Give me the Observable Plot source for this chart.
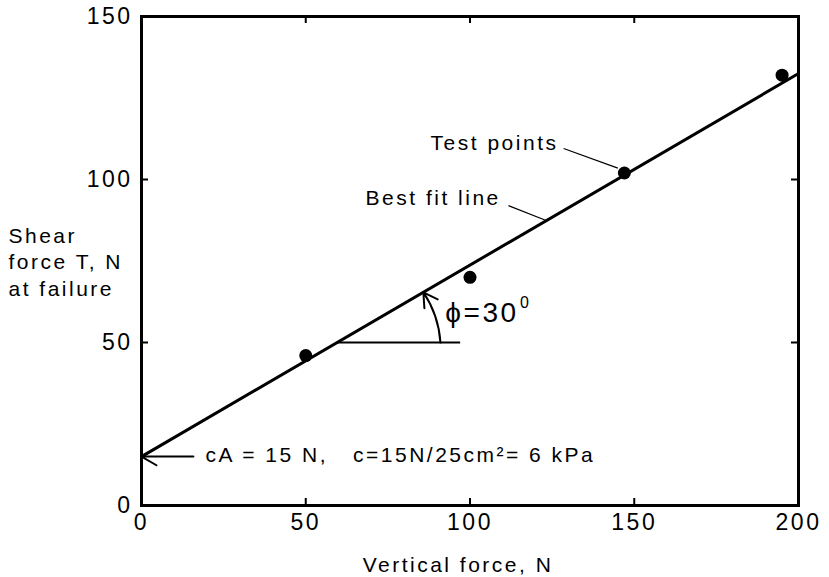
<!DOCTYPE html>
<html><head><meta charset="utf-8">
<script src="https://cdn.jsdelivr.net/npm/d3@7"></script>
<script src="https://cdn.jsdelivr.net/npm/@observablehq/plot@0.6"></script>
<style>body{margin:0;background:#fff}</style>
</head><body><div id="chart"></div>
<script>
// Test points
const verticalForce = [50, 100, 147, 195];
const shearForce = [46, 70, 102, 132];
// Best fit line
const fitX = [0, 200];
const fitY = [15, 132.5];
// Tick labels
const xTicks = [0, 50, 100, 150, 200];
const yTicks = [0, 50, 100, 150];
const innerX = [50, 100, 150];
const innerY = [50, 100];
// Annotations (data coordinates)
const labelText = ["Test points", "Best fit line"];
const labelX = [88, 68.2];
const labelY = [111, 94.2];
const leaderX1 = [128.5, 111.7];
const leaderY1 = [109.5, 92.0];
const leaderX2 = [145, 123];
const leaderY2 = [103.5, 87.5];
const cohesionText = "cA = 15 N,\u00a0\u00a0\u00a0c=15N/25cm²= 6 kPa";
const cohesionAt = [19.5, 15.3];
const cohesionArrow = [15.8, 0, 15];
const angleBase = [59.6, 97, 50];
const angleArc = [91, 50, 85.8, 65.4];
const phiText = "ϕ=30";
const phiAt = [92.5, 58.9];
const degText = "0";
const degAt = [115.2, 62.2];

const fit = fitX.map((x, i) => ({x, y: fitY[i]}));
const pts = verticalForce.map((x, i) => ({x, y: shearForce[i]}));
const labels = labelText.map((t, i) => ({t, x: labelX[i], y: labelY[i], x1: leaderX1[i], y1: leaderY1[i], x2: leaderX2[i], y2: leaderY2[i]}));

const font = "Liberation Sans, Arial, Helvetica, sans-serif";
const W = 829, H = 577, mL = 141, mR = 31, mT = 16, mB = 72;
const frameW = W - mL - mR, frameH = H - mT - mB, tk = 7;

const chart = Plot.plot({
  width: W,
  height: H,
  marginLeft: mL,
  marginRight: mR,
  marginTop: mT,
  marginBottom: mB,
  style: {fontFamily: font, letterSpacing: "2.5px", color: "#000", background: "#fff"},
  x: {domain: [0, 200]},
  y: {domain: [0, 150]},
  marks: [
    Plot.axisX(xTicks, {anchor: "bottom", tickSize: 0, tickPadding: 8, fontSize: 23, label: null}),
    Plot.axisY(yTicks, {anchor: "left", tickSize: 0, tickPadding: 9, fontSize: 23, label: null}),
    Plot.tickX(innerX, {x: d => d, insetTop: frameH - tk, strokeWidth: 2, stroke: "#000"}),
    Plot.tickX(innerX, {x: d => d, insetBottom: frameH - tk, strokeWidth: 2, stroke: "#000"}),
    Plot.tickY(innerY, {y: d => d, insetRight: frameW - tk, strokeWidth: 2, stroke: "#000"}),
    Plot.tickY(innerY, {y: d => d, insetLeft: frameW - tk, strokeWidth: 2, stroke: "#000"}),
    Plot.frame({strokeWidth: 3, stroke: "#000"}),
    Plot.line(fit, {x: "x", y: "y", strokeWidth: 3, stroke: "#000"}),
    Plot.dot(pts, {x: "x", y: "y", r: 6.5, fill: "#000"}),
    Plot.link(labels, {x1: "x1", y1: "y1", x2: "x2", y2: "y2", strokeWidth: 1.2, stroke: "#000"}),
    Plot.text(labels, {x: "x", y: "y", text: "t", textAnchor: "start", lineAnchor: "middle", fontSize: 21}),
    Plot.text([cohesionText], {x: () => cohesionAt[0], y: () => cohesionAt[1], text: d => d, textAnchor: "start", lineAnchor: "middle", fontSize: 21}),
    Plot.arrow([cohesionArrow], {x1: d => d[0], x2: d => d[1], y1: d => d[2], y2: d => d[2], strokeWidth: 2, headLength: 14, stroke: "#000"}),
    Plot.link([angleBase], {x1: d => d[0], x2: d => d[1], y1: d => d[2], y2: d => d[2], strokeWidth: 2, stroke: "#000"}),
    Plot.arrow([angleArc], {x1: d => d[0], y1: d => d[1], x2: d => d[2], y2: d => d[3], bend: -15, strokeWidth: 2, headLength: 12, stroke: "#000"}),
    Plot.text([phiText], {x: () => phiAt[0], y: () => phiAt[1], text: d => d, textAnchor: "start", lineAnchor: "middle", fontSize: 28}),
    Plot.text([degText], {x: () => degAt[0], y: () => degAt[1], text: d => d, textAnchor: "start", lineAnchor: "middle", fontSize: 16}),
    Plot.text(["Shear\nforce T, N\nat failure"], {frameAnchor: "left", text: d => d, textAnchor: "start", lineAnchor: "middle", lineHeight: 1.25, dx: -133, fontSize: 21}),
    Plot.text(["Vertical force, N"], {frameAnchor: "bottom", text: d => d, textAnchor: "middle", lineAnchor: "middle", dx: -12, dy: 60, fontSize: 21})
  ]
});
document.getElementById("chart").appendChild(chart);
</script>
</body></html>
